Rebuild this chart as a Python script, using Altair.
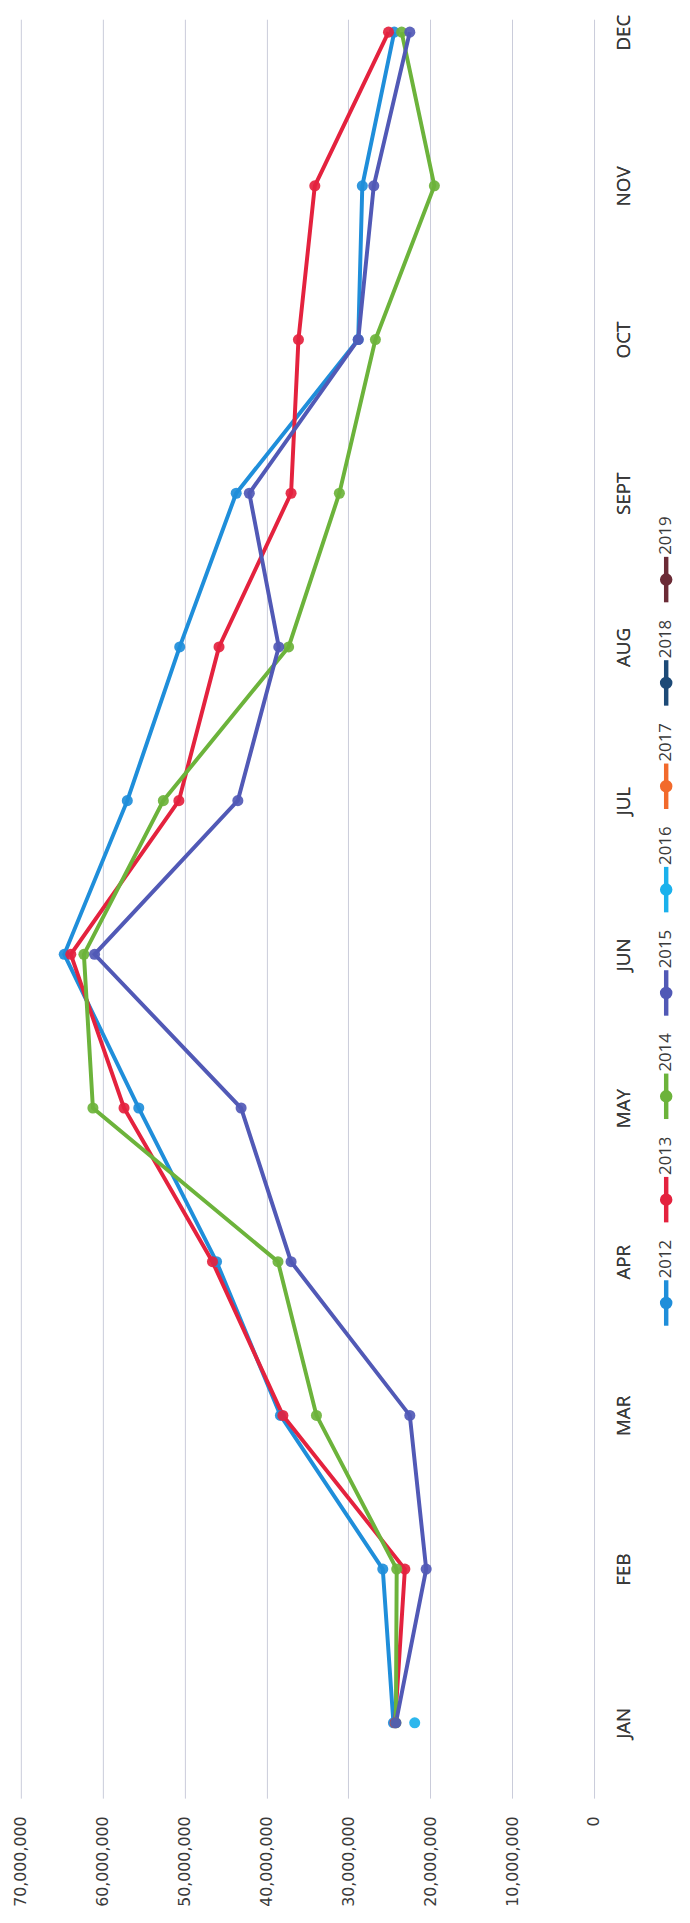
import json
import altair as alt
import pandas as pd

months = ["JAN", "FEB", "MAR", "APR", "MAY", "JUN", "JUL", "AUG", "SEPT", "OCT", "NOV", "DEC"]
years = ["2012", "2013", "2014", "2015", "2016", "2017", "2018", "2019"]
colors = ["#1F8EDA", "#E4223E", "#6CB33B", "#5159B6", "#1BB1EC", "#F26A2C", "#1D4A77", "#6B2B36"]
value_ticks = [0, 10000000, 20000000, 30000000, 40000000, 50000000, 60000000, 70000000]

# values in millions (None = no data)
s2012 = [24.5, 25.8, 38.3, 46.1, 55.6, 64.7, 57.0, 50.6, 43.7, 28.8, 28.3, 24.4]
s2013 = [24.3, 23.1, 38.0, 46.6, 57.4, 63.9, 50.7, 45.8, 37.0, 36.1, 34.1, 25.1]
s2014 = [24.2, 24.1, 33.9, 38.6, 61.2, 62.3, 52.6, 37.3, 31.1, 26.7, 19.5, 23.5]
s2015 = [24.2, 20.5, 22.5, 37.0, 43.1, 61.0, 43.5, 38.5, 42.1, 28.8, 26.9, 22.5]
s2016 = [21.9, None, None, None, None, None, None, None, None, None, None, None]
s2017 = [None, None, None, None, None, None, None, None, None, None, None, None]
s2018 = [None, None, None, None, None, None, None, None, None, None, None, None]
s2019 = [None, None, None, None, None, None, None, None, None, None, None, None]

series = dict(zip(years, [s2012, s2013, s2014, s2015, s2016, s2017, s2018, s2019]))

rows = []
for yr, vals in series.items():
    for i, v in enumerate(vals):
        if v is not None:
            rows.append({"year": yr, "m": i + 1, "value": v * 1_000_000})
df = pd.DataFrame(rows)
leg = pd.DataFrame({"year": years})

color_scale = alt.Scale(domain=years, range=colors)
month_expr = json.dumps(months) + "[datum.value - 1]"

x_enc = alt.X(
    "value:Q",
    scale=alt.Scale(domain=[0, 70000000], reverse=True, nice=False, zero=True),
    axis=alt.Axis(
        orient="bottom", values=value_ticks, labelExpr="format(datum.value, ',')", title=None,
        labelAngle=270, labelAlign="right", labelBaseline="middle",
        labelPadding=18, labelFont="DejaVu Sans", labelFontSize=16,
        labelColor="#3a3a3a", grid=True, gridColor="#c9cbd9", gridWidth=1,
        domain=False, ticks=False,
    ),
)
y_enc = alt.Y(
    "m:Q",
    scale=alt.Scale(domain=[0.51, 12.084], nice=False, zero=False),
    axis=alt.Axis(
        orient="right", values=list(range(1, 13)), labelExpr=month_expr, title=None,
        labelAngle=270, labelAlign="center", labelBaseline="top",
        labelPadding=21, labelFont="Open Sans", labelFontSize=19,
        labelColor="#3a3a3a", grid=False, domain=False, ticks=False,
    ),
)

base = alt.Chart(df).encode(
    x=x_enc, y=y_enc,
    color=alt.Color("year:N", scale=color_scale, legend=None),
    detail="year:N",
    order=alt.Order("m:Q"),
)
lines = base.mark_line(strokeWidth=4)
points = base.mark_circle(size=125, opacity=0.92)

leg_y = alt.Y("year:N", scale=alt.Scale(domain=years, range=[1299, 567], padding=0), axis=None)
leg_color = alt.Color("year:N", scale=color_scale, legend=None)
leg_line = alt.Chart(leg).mark_point(
    shape="M0,-1L0,1", filled=False, strokeWidth=4.5, size=2116, opacity=1
).encode(x=alt.value(653), y=leg_y, color=leg_color)
leg_dot = alt.Chart(leg).mark_circle(size=160, opacity=1).encode(
    x=alt.value(653), y=leg_y, color=leg_color
)
leg_text = alt.Chart(leg).mark_text(
    angle=270, align="left", baseline="middle", dx=25,
    font="Open Sans", fontSize=17, color="#3a3a3a"
).encode(x=alt.value(653), y=leg_y, text="year:N")

chart = (
    alt.layer(lines, points, leg_line, leg_dot, leg_text)
    .resolve_scale(y="independent")
    .properties(
        width=580, height=1800,
        autosize=alt.AutoSizeParams(type="none"),
        padding={"left": 13, "top": 0, "right": 89, "bottom": 115},
        background="white",
    )
    .configure_view(strokeOpacity=0)
)

chart.save("out.html", embed_options={"renderer": "svg", "actions": False})
